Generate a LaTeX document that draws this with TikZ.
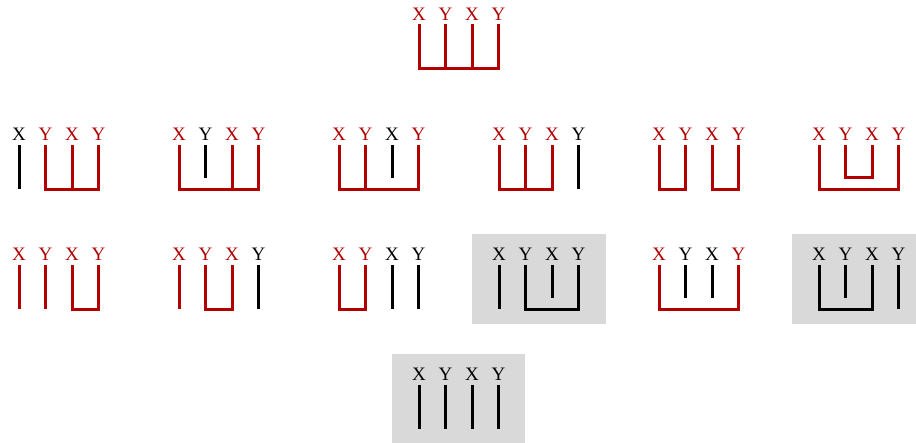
\documentclass[tikz,border=0pt]{standalone}
\usepackage{fontspec}
\setmainfont{Liberation Serif}
\usetikzlibrary{calc}
\definecolor{bred}{RGB}{178,0,0}
\definecolor{boxgray}{RGB}{217,217,217}
\tikzset{
  lab/.style={inner sep=0pt, font=\fontsize{19}{19}\selectfont},
  rl/.style={draw=bred, line width=3pt, miter limit=10},
  bl/.style={draw=black, line width=3pt, miter limit=10},
  shade/.style={fill=boxgray, draw=none}
}
% #1 prefix, #2 x of first column, #3 label y, #4..#7 label colours
\newcommand\grp[7]{%
  \node[lab,text=#4] (#1a) at (#2,#3) {X};
  \node[lab,text=#5] (#1b) at (#2+26.5,#3) {Y};
  \node[lab,text=#6] (#1c) at (#2+53,#3) {X};
  \node[lab,text=#7] (#1d) at (#2+79.5,#3) {Y};
  \foreach \k in {a,b,c,d}{
    \coordinate (#1\k t) at ($(#1\k)+(0,10.5)$);
    \coordinate (#1\k s) at ($(#1\k)+(0,43.5)$);
    \coordinate (#1\k b) at ($(#1\k)+(0,55)$);
  }
}
\begin{document}
\begin{tikzpicture}[x=1pt,y=-1pt]
\useasboundingbox (0,0) rectangle (916,443);
% gray boxes
\fill[shade] (472,234) rectangle (606,324);
\fill[shade] (792,234) rectangle (916,324);
\fill[shade] (392,354) rectangle (525,443);

% top
\grp{t}{419}{14}{bred}{bred}{bred}{bred}
\draw[rl] (tat) -- (tab) -- (tdb) -- (tdt);
\draw[rl] (tbt) -- (tbb);
\draw[rl] (tct) -- (tcb);

% row 2
\grp{p}{19}{134.5}{black}{bred}{bred}{bred}
\draw[bl] (pat) -- (pab);
\draw[rl] (pbt) -- (pbb) -- (pdb) -- (pdt);
\draw[rl] (pct) -- (pcb);

\grp{q}{179}{134.5}{bred}{black}{bred}{bred}
\draw[rl] (qat) -- (qab) -- (qdb) -- (qdt);
\draw[rl] (qct) -- (qcb);
\draw[bl] (qbt) -- (qbs);

\grp{r}{339}{134.5}{bred}{bred}{black}{bred}
\draw[rl] (rat) -- (rab) -- (rdb) -- (rdt);
\draw[rl] (rbt) -- (rbb);
\draw[bl] (rct) -- (rcs);

\grp{s}{499}{134.5}{bred}{bred}{bred}{black}
\draw[rl] (sat) -- (sab) -- (scb) -- (sct);
\draw[rl] (sbt) -- (sbb);
\draw[bl] (sdt) -- (sdb);

\grp{u}{659}{134.5}{bred}{bred}{bred}{bred}
\draw[rl] (uat) -- (uab) -- (ubb) -- (ubt);
\draw[rl] (uct) -- (ucb) -- (udb) -- (udt);

\grp{v}{819}{134.5}{bred}{bred}{bred}{bred}
\draw[rl] (vat) -- (vab) -- (vdb) -- (vdt);
\draw[rl] (vbt) -- (vbs) -- (vcs) -- (vct);

% row 3
\grp{e}{19}{254.5}{bred}{bred}{bred}{bred}
\draw[rl] (eat) -- (eab);
\draw[rl] (ebt) -- (ebb);
\draw[rl] (ect) -- (ecb) -- (edb) -- (edt);

\grp{f}{179}{254.5}{bred}{bred}{bred}{black}
\draw[rl] (fat) -- (fab);
\draw[rl] (fbt) -- (fbb) -- (fcb) -- (fct);
\draw[bl] (fdt) -- (fdb);

\grp{g}{339}{254.5}{bred}{bred}{black}{black}
\draw[rl] (gat) -- (gab) -- (gbb) -- (gbt);
\draw[bl] (gct) -- (gcb);
\draw[bl] (gdt) -- (gdb);

\grp{h}{499}{254.5}{black}{black}{black}{black}
\draw[bl] (hat) -- (hab);
\draw[bl] (hbt) -- (hbb) -- (hdb) -- (hdt);
\draw[bl] (hct) -- (hcs);

\grp{i}{659}{254.5}{bred}{black}{black}{bred}
\draw[rl] (iat) -- (iab) -- (idb) -- (idt);
\draw[bl] (ibt) -- (ibs);
\draw[bl] (ict) -- (ics);

\grp{j}{819}{254.5}{black}{black}{black}{black}
\draw[bl] (jat) -- (jab) -- (jcb) -- (jct);
\draw[bl] (jbt) -- (jbs);
\draw[bl] (jdt) -- (jdb);

% row 4
\grp{k}{419}{374.5}{black}{black}{black}{black}
\draw[bl] (kat) -- (kab);
\draw[bl] (kbt) -- (kbb);
\draw[bl] (kct) -- (kcb);
\draw[bl] (kdt) -- (kdb);
\end{tikzpicture}
\end{document}
